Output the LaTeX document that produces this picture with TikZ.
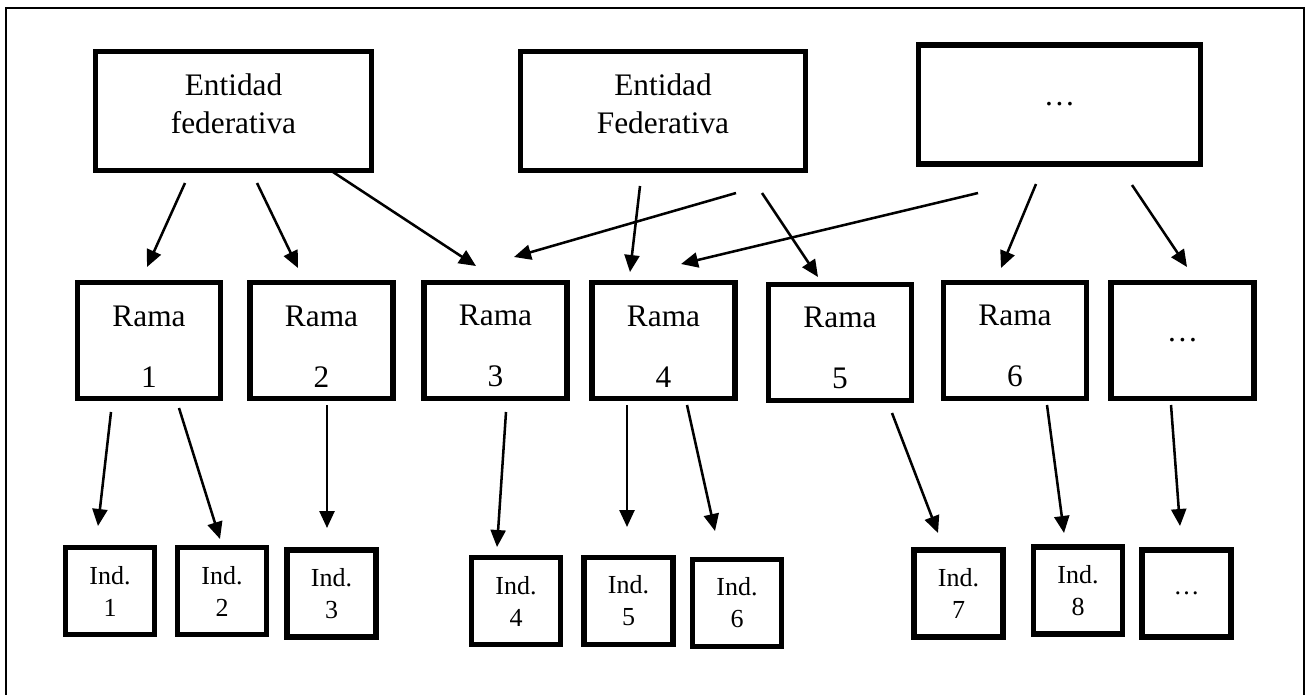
\documentclass[tikz,border=0pt]{standalone}
\usepackage{fontspec}
\setmainfont{Liberation Serif}
\usetikzlibrary{arrows.meta}
\begin{document}
\begin{tikzpicture}[x=0.75pt,y=-0.75pt,
  bx/.style={draw, line width=4.2pt, rectangle, inner sep=0pt, align=center},
  efbox/.style={bx, minimum width=#1, minimum height=89.25pt, font=\fontsize{23.5pt}{28.5pt}\selectfont},
  ramabox/.style={bx, minimum width=107.25pt, minimum height=87pt, font=\fontsize{23.5pt}{45.75pt}\selectfont},
  indbox/.style={bx, minimum width=66.75pt, minimum height=65.25pt, font=\fontsize{19.5pt}{24pt}\selectfont},
  arr/.style={line width=1.9pt, -{Triangle[length=12.75pt,width=11.25pt]}},
  frame/.style={line width=1.5pt}
]
\useasboundingbox (0,0) rectangle (1308,694);
\clip (0,0) rectangle (1308,694);
\draw[frame] (6,720) -- (6,8) -- (1304,8) -- (1304,720);

% top level
\node[efbox=207pt] (ef1) at (233.5,111) {Entidad\\federativa\rule[-11.5pt]{0pt}{11.5pt}};
\node[efbox=213.75pt] (ef2) at (663,111) {Entidad\\Federativa\rule[-11.5pt]{0pt}{11.5pt}};
\node[efbox=211.5pt] (ef3) at (1059.5,104.5) {\char"2026};

% ramas
\node[ramabox] (r1) at (149,340.5) {\rule{0pt}{24pt}Rama\\1};
\node[ramabox] (r2) at (321.5,340.5) {\rule{0pt}{24pt}Rama\\2};
\node[ramabox] (r3) at (495.5,340.5) {\rule{0pt}{24pt}Rama\\3};
\node[ramabox] (r4) at (663.5,340.5) {\rule{0pt}{24pt}Rama\\4};
\node[ramabox] (r5) at (840,342.5) {\rule{0pt}{24pt}Rama\\5};
\node[ramabox] (r6) at (1015,340.5) {\rule{0pt}{24pt}Rama\\6};
\node[ramabox] (r7) at (1182.5,340.5) {\char"2026};

% indicadores
\node[indbox] (i1) at (110,591) {Ind.\\1};
\node[indbox] (i2) at (222,591) {Ind.\\2};
\node[indbox] (i3) at (331.5,593.5) {Ind.\\3};
\node[indbox] (i4) at (516,601) {Ind.\\4};
\node[indbox] (i5) at (628.5,601) {Ind.\\5};
\node[indbox] (i6) at (737,603) {Ind.\\6};
\node[indbox] (i7) at (958.5,593.5) {Ind.\\7};
\node[indbox] (i8) at (1078,590.5) {Ind.\\8};
\node[indbox] (i9) at (1186.5,593.5) {\char"2026};

% arrows: entidades -> ramas
\draw[arr] ([shift={(-48.5,72)}]ef1.center) -- ([shift={(-2,-73.5)}]r1.center);
\draw[arr] ([shift={(23.5,72)}]ef1.center) -- ([shift={(-23.5,-72.5)}]r2.center);
\draw[arr] ([shift={(99.5,61)}]ef1.center) -- ([shift={(-19.5,-74.5)}]r3.center);
\draw[arr] ([shift={(73,82)}]ef2.center) -- ([shift={(18.5,-83.5)}]r3.center);
\draw[arr] ([shift={(-23,75)}]ef2.center) -- ([shift={(-33.5,-68.5)}]r4.center);
\draw[arr] ([shift={(99,82)}]ef2.center) -- ([shift={(-22,-65.5)}]r5.center);
\draw[arr] ([shift={(-81.5,88.5)}]ef3.center) -- ([shift={(17.5,-76.5)}]r4.center);
\draw[arr] ([shift={(-23.5,79.5)}]ef3.center) -- ([shift={(-14,-72.5)}]r6.center);
\draw[arr] ([shift={(72.5,80.5)}]ef3.center) -- ([shift={(4.5,-73.5)}]r7.center);

% arrows: ramas -> indicadores
\draw[arr] ([shift={(-38,71.5)}]r1.center) -- ([shift={(-12,-65)}]i1.center);
\draw[arr] ([shift={(30,67.5)}]r1.center) -- ([shift={(-2,-52)}]i2.center);
\draw[arr] ([shift={(5.5,64.5)}]r2.center) -- ([shift={(-4.5,-65.5)}]i3.center);
\draw[arr] ([shift={(10.5,71.5)}]r3.center) -- ([shift={(-19,-54)}]i4.center);
\draw[arr] ([shift={(-36.5,64.5)}]r4.center) -- ([shift={(-1.5,-74)}]i5.center);
\draw[arr] ([shift={(23.5,64.5)}]r4.center) -- ([shift={(-22,-72)}]i6.center);
\draw[arr] ([shift={(52,70.5)}]r5.center) -- ([shift={(-20.5,-60.5)}]i7.center);
\draw[arr] ([shift={(32,64.5)}]r6.center) -- ([shift={(-14,-57.5)}]i8.center);
\draw[arr] ([shift={(-11.5,64.5)}]r7.center) -- ([shift={(-6.5,-67.5)}]i9.center);
\end{tikzpicture}
\end{document}
